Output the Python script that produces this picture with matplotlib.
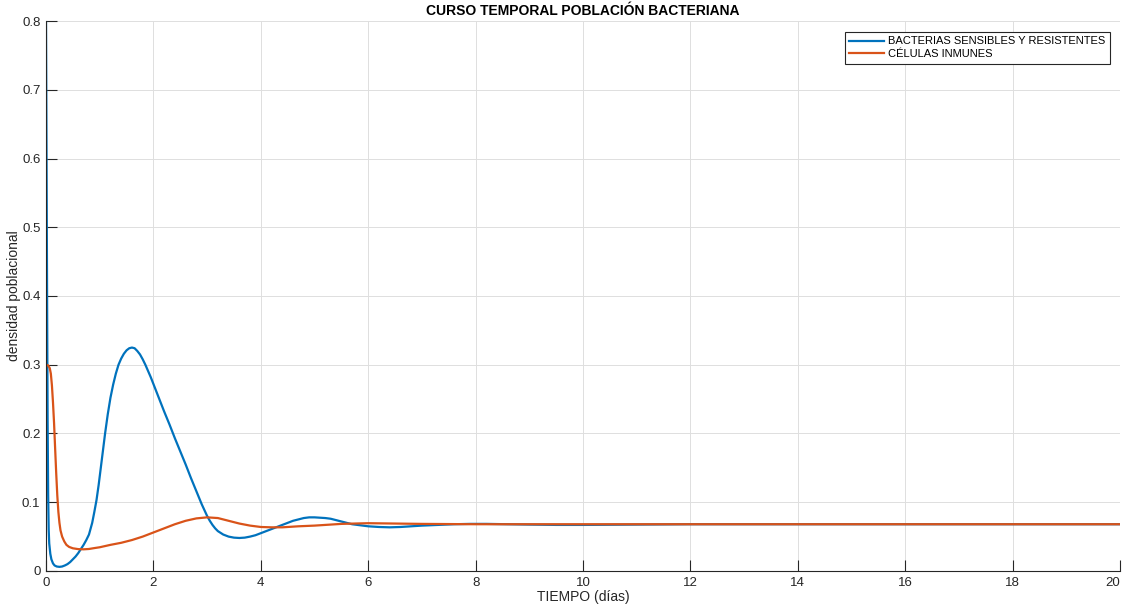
import matplotlib
matplotlib.use('Agg')
import matplotlib.pyplot as plt

# tiempo (días) y densidad de bacterias sensibles + resistentes
t_bact = [0.0, 0.01, 0.02, 0.03, 0.04, 0.05, 0.06, 0.08, 0.1, 0.13, 0.16, 0.2,
          0.25, 0.3, 0.35, 0.4, 0.45, 0.5, 0.55, 0.6, 0.65, 0.7, 0.75, 0.8,
          0.86, 0.9, 0.94, 0.98, 1.02, 1.06, 1.1, 1.15, 1.2, 1.25, 1.3, 1.35,
          1.4, 1.45, 1.5, 1.55, 1.6, 1.65, 1.7, 1.75, 1.8, 1.85, 1.9, 1.95, 2.0,
          2.1, 2.2, 2.3, 2.4, 2.5, 2.6, 2.7, 2.8, 2.9, 3.0, 3.05, 3.1, 3.15,
          3.2, 3.3, 3.4, 3.5, 3.6, 3.7, 3.8, 3.9, 4.0, 4.1, 4.2, 4.3, 4.4, 4.5,
          4.6, 4.7, 4.8, 4.9, 5.0, 5.1, 5.2, 5.3, 5.4, 5.5, 5.6, 5.7, 5.8, 5.9,
          6.0, 6.2, 6.4, 6.6, 6.8, 7.0, 7.3, 7.6, 7.9, 8.2, 8.6, 9.0, 9.5,
          10.0, 11.0, 12.0, 20.0]
bacterias = [0.80, 0.60, 0.40, 0.22, 0.11, 0.06, 0.04, 0.025, 0.017, 0.011,
             0.008, 0.0065, 0.006, 0.0065, 0.008, 0.010, 0.013, 0.017, 0.021,
             0.026, 0.032, 0.038, 0.045, 0.053, 0.070, 0.086, 0.103, 0.125,
             0.150, 0.175, 0.200, 0.228, 0.252, 0.271, 0.287, 0.300, 0.309,
             0.316, 0.321, 0.324, 0.325, 0.324, 0.320, 0.315, 0.308, 0.300,
             0.291, 0.282, 0.272, 0.252, 0.232, 0.213, 0.193, 0.174, 0.155,
             0.135, 0.116, 0.097, 0.080, 0.073, 0.067, 0.062, 0.058, 0.053,
             0.050, 0.0485, 0.048, 0.0485, 0.050, 0.052, 0.055, 0.058, 0.061,
             0.064, 0.067, 0.070, 0.073, 0.075, 0.077, 0.078, 0.078, 0.0775,
             0.077, 0.076, 0.074, 0.072, 0.070, 0.068, 0.067, 0.066, 0.065,
             0.064, 0.0635, 0.064, 0.065, 0.066, 0.067, 0.068, 0.0685, 0.0685,
             0.068, 0.0675, 0.067, 0.067, 0.0675, 0.068, 0.068]

# células inmunes
t_inm = [0.0, 0.04, 0.07, 0.09, 0.11, 0.13, 0.15, 0.17, 0.19, 0.21, 0.23, 0.25,
         0.27, 0.3, 0.34, 0.38, 0.43, 0.5, 0.6, 0.7, 0.8, 0.9, 1.0, 1.2, 1.4,
         1.6, 1.8, 2.0, 2.2, 2.4, 2.6, 2.8, 3.0, 3.2, 3.4, 3.6, 3.8, 4.0, 4.2,
         4.4, 4.7, 5.0, 5.5, 6.0, 6.5, 7.0, 8.0, 20.0]
inmunes = [0.30, 0.299, 0.295, 0.287, 0.27, 0.245, 0.215, 0.178, 0.142, 0.11,
           0.086, 0.070, 0.059, 0.050, 0.043, 0.038, 0.035, 0.033, 0.0318,
           0.0315, 0.032, 0.0333, 0.0345, 0.038, 0.041, 0.045, 0.050, 0.056,
           0.062, 0.068, 0.073, 0.0765, 0.078, 0.077, 0.073, 0.069, 0.066,
           0.064, 0.0635, 0.0635, 0.065, 0.066, 0.0685, 0.0695, 0.069, 0.0685,
           0.068, 0.068]

plt.rcParams['font.family'] = ['Liberation Sans', 'DejaVu Sans']
txt = '#262626'

fig = plt.figure(figsize=(11.25, 6.11), dpi=100)
ax = fig.add_axes([0.0409, 0.0655, 0.9547, 0.9001])

ax.plot(t_bact, bacterias, color='#0072BD', lw=1.6, label='BACTERIAS SENSIBLES Y RESISTENTES')
ax.plot(t_inm, inmunes, color='#D95319', lw=1.6, label='CÉLULAS INMUNES')

ax.set_xlim(0, 20)
ax.set_ylim(0, 0.8)
ax.set_xticks(range(0, 21, 2))
ax.set_yticks([0, 0.1, 0.2, 0.3, 0.4, 0.5, 0.6, 0.7, 0.8])
ax.set_yticklabels(['0', '0.1', '0.2', '0.3', '0.4', '0.5', '0.6', '0.7', '0.8'])

ax.grid(True, color='#dedede', lw=0.7)
ax.set_axisbelow(True)
for s in ['top', 'right']:
    ax.spines[s].set_visible(False)
for s in ['left', 'bottom']:
    ax.spines[s].set_color(txt)
    ax.spines[s].set_linewidth(0.8)
ax.tick_params(direction='in', length=8, width=0.8, color=txt, labelcolor=txt,
               labelsize=9.5, pad=4)
# el último rótulo del eje x se alinea a la derecha para que no se corte
ax.get_xticklabels()[-1].set_horizontalalignment('right')

ax.set_title('CURSO TEMPORAL POBLACIÓN BACTERIANA', fontsize=10,
             fontweight='bold', color='black', pad=4)
ax.set_xlabel('TIEMPO (días)', fontsize=10, color=txt, labelpad=1)
ax.set_ylabel('densidad poblacional', fontsize=10, color=txt)
ax.yaxis.set_label_coords(-0.0235, 0.5)

leg = ax.legend(loc='upper right', fontsize=8, frameon=True, fancybox=False,
                edgecolor=txt, framealpha=1, handlelength=3.1,
                borderpad=0.4, labelspacing=0.25, handletextpad=0.4,
                borderaxespad=0, bbox_to_anchor=(0.9907, 0.98))
leg.get_frame().set_linewidth(0.8)

fig.savefig('out.png', dpi=100)
